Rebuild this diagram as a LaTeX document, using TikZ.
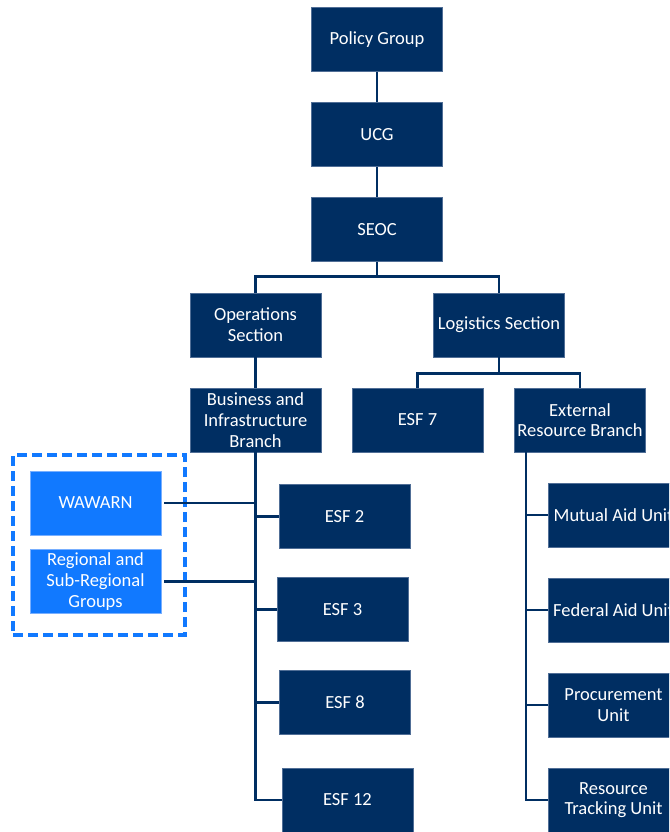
\documentclass[tikz,border=0pt]{standalone}
\usepackage{fontspec}
\setmainfont{Carlito}
\definecolor{navy}{RGB}{0,46,98}
\definecolor{navyedge}{RGB}{80,110,150}
\definecolor{lblue}{RGB}{17,121,255}
\definecolor{lblueedge}{RGB}{120,175,255}
\begin{document}
\begin{tikzpicture}[x=1pt,y=-1pt,
  box/.style={fill=navy, draw=navyedge, line width=0.5pt, text=white,
    minimum width=131pt, minimum height=64pt, align=center, inner sep=0pt,
    font=\fontsize{18.5}{20.7}\selectfont},
  lbox/.style={box, fill=lblue, draw=lblueedge},
  conn/.style={draw=navy, line width=2.5pt},
  grpbox/.style={draw=lblue, line width=3.2pt, dash pattern=on 10pt off 5pt,
    minimum width=172pt, minimum height=180pt, inner sep=0pt}]
\useasboundingbox (0,0) rectangle (669,832);
\clip (0,0) rectangle (669,832);
\fill[white] (0,0) rectangle (669,832);

\node[box] (policy) at (377,39.5) {Policy Group};
\node[box] (ucg) at (377,134.5) {UCG};
\node[box] (seoc) at (377,229.5) {SEOC};
\node[box] (ops) at (255.5,325) {Operations\\Section};
\node[box] (log) at (499,325) {Logistics Section};
\node[box] (bib) at (255.5,420) {Business and\\Infrastructure\\Branch};
\node[box] (esf7) at (417.5,420) {ESF 7};
\node[box] (erb) at (580,420) {External\\Resource Branch};

\node[box] (esf2) at (344.5,516.5) {ESF 2};
\node[box] (esf3) at (342.5,609.5) {ESF 3};
\node[box] (esf8) at (345,702.5) {ESF 8};
\node[box] (esf12) at (347.5,800) {ESF 12};

\node[grpbox] (grp) at (99,545) {};
\node[lbox] (wawarn) at (95.5,503) {WAWARN};
\node[lbox] (regional) at (95.5,581.5) {Regional and\\Sub-Regional\\Groups};

\node[box] (mutual) at (613.5,515) {Mutual Aid Unit};
\node[box] (federal) at (613.5,610) {Federal Aid Unit};
\node[box] (procure) at (613.5,705) {Procurement\\Unit};
\node[box] (rtu) at (613.5,800) {Resource\\Tracking Unit};

\coordinate (erbx) at (526,452);

\draw[conn] (policy) -- (ucg);
\draw[conn] (ucg) -- (seoc);
\draw[conn] (seoc.south) -- ++(0,14.5) -| (ops.north);
\draw[conn] (seoc.south) -- ++(0,14.5) -| (log.north);
\draw[conn] (ops) -- (bib);
\draw[conn] (log.south) -- ++(0,16) -| (esf7.north);
\draw[conn] (log.south) -- ++(0,16) -| (erb.north);

\draw[conn] (bib.south) |- (esf12.west);
\draw[conn] (esf2.west) -- (esf2.west -| bib.south);
\draw[conn] (esf3.west) -- (esf3.west -| bib.south);
\draw[conn] (esf8.west) -- (esf8.west -| bib.south);
\draw[conn] ([xshift=3pt]wawarn.east) -- (wawarn.east -| bib.south);
\draw[conn] ([xshift=3pt]regional.east) -- (regional.east -| bib.south);

\draw[conn] (erbx) |- (rtu.west);
\draw[conn] (mutual.west) -- (mutual.west -| erbx);
\draw[conn] (federal.west) -- (federal.west -| erbx);
\draw[conn] (procure.west) -- (procure.west -| erbx);
\end{tikzpicture}
\end{document}
